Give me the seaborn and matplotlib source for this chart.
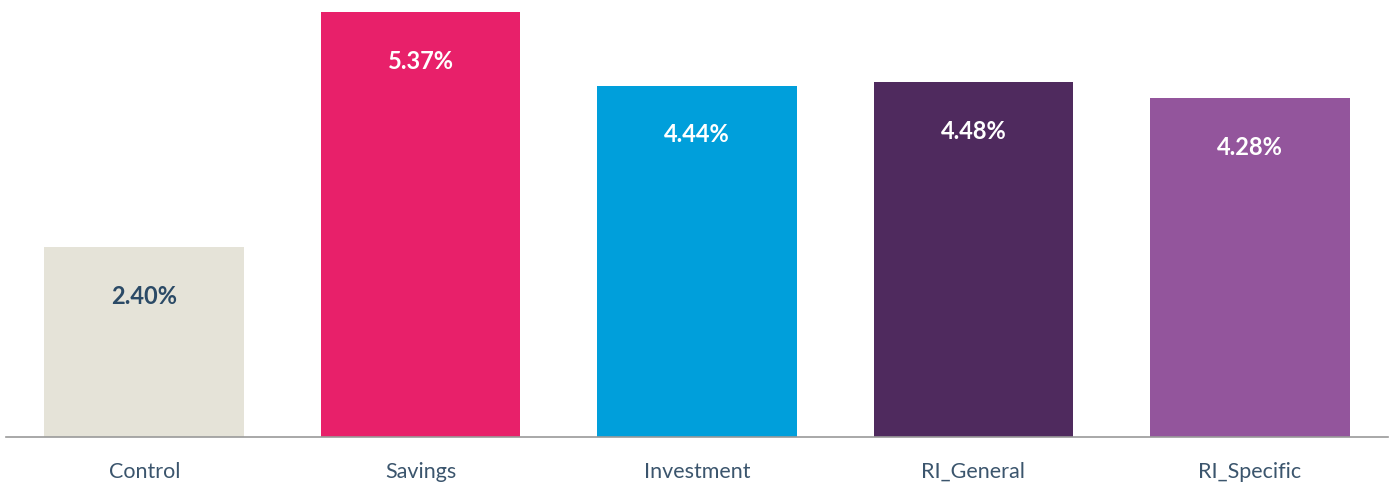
import matplotlib
matplotlib.use("Agg")
import matplotlib.pyplot as plt
import seaborn as sns
import pandas as pd

categories = ["Control", "Savings", "Investment", "RI_General", "RI_Specific"]
values = [2.40, 5.37, 4.44, 4.48, 4.28]
labels = ["2.40%", "5.37%", "4.44%", "4.48%", "4.28%"]
colors = ["#e5e3d8", "#e8206a", "#009fdb", "#4f2a5e", "#93559c"]
label_colors = ["#2b4a66", "white", "white", "white", "white"]

sns.set_theme(style="white")
plt.rcParams["font.family"] = ["Lato", "DejaVu Sans"]

df = pd.DataFrame({"cat": categories, "val": values})

fig = plt.figure(figsize=(13.95, 4.83), dpi=100)
ax = fig.add_axes([6 / 1395, (483 - 437) / 483, (1388 - 6) / 1395, (437 - 12) / 483])
sns.barplot(data=df, x="cat", y="val", hue="cat", palette=colors, legend=False,
            width=0.722, ax=ax, saturation=1, linewidth=0)

ax.set_xlim(-0.5, 4.5)
ax.set_ylim(0, 5.37)
for s in ["top", "right", "left"]:
    ax.spines[s].set_visible(False)
ax.spines["bottom"].set_color("#9a9a9a")
ax.spines["bottom"].set_linewidth(1.2)
ax.set_yticks([])
ax.set_xlabel("")
ax.set_ylabel("")
ax.tick_params(axis="x", length=0, pad=18, labelsize=15.5, labelcolor="#3b556d")

for i, (v, lab, c) in enumerate(zip(values, labels, label_colors)):
    ax.annotate(lab, xy=(i, v), xytext=(0, -35.5), textcoords="offset points",
                ha="center", va="center", fontsize=17, fontweight="bold", color=c)

fig.savefig("out.png", dpi=100)
